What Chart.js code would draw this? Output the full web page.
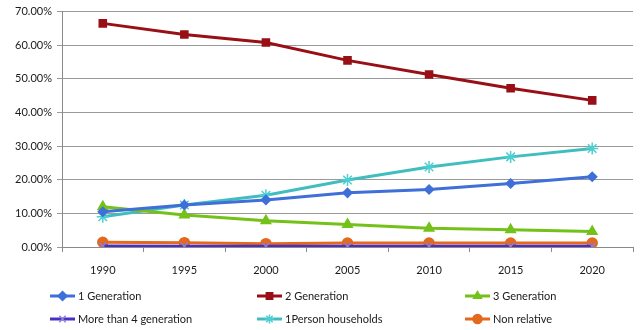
<!DOCTYPE html>
<html>
<head>
<meta charset="utf-8">
<script src="https://cdn.jsdelivr.net/npm/chart.js@4/dist/chart.umd.min.js"></script>
<style>
  html, body { margin: 0; padding: 0; background: #fff; }
  #wrap { width: 643px; height: 330px; position: relative; }
</style>
</head>
<body>
<div id="wrap"><canvas id="c" width="643" height="330"></canvas></div>
<script>
// Household composition shares, percent of households
const years = ['1990', '1995', '2000', '2005', '2010', '2015', '2020'];
const oneGeneration = [10.5, 12.5, 14.0, 16.1, 17.1, 18.9, 20.9];
const twoGeneration = [66.5, 63.2, 60.8, 55.5, 51.3, 47.2, 43.6];
const threeGeneration = [12.0, 9.5, 7.8, 6.7, 5.6, 5.1, 4.6];
const fourPlusGeneration = [0.3, 0.2, 0.2, 0.2, 0.2, 0.2, 0.2];
const onePerson = [9.0, 12.5, 15.4, 19.9, 23.8, 26.8, 29.3];
const nonRelative = [1.4, 1.3, 1.0, 1.2, 1.2, 1.2, 1.2];
const yTicks = [0, 10, 20, 30, 40, 50, 60, 70];

const FONT = 'Lato, "Liberation Sans", sans-serif';

function series(label, data, color, pointStyle, radius, pointColor) {
  return {
    label, data,
    borderColor: color,
    backgroundColor: pointColor || color,
    pointBorderColor: pointColor || color,
    pointBackgroundColor: pointColor || color,
    borderWidth: 3,
    pointStyle,
    pointRadius: radius,
    pointHoverRadius: radius,
    pointBorderWidth: 1.5,
    tension: 0
  };
}

const datasets = [
  series('1 Generation', oneGeneration, '#3F6FD8', 'rectRot', 4.5),
  series('2 Generation', twoGeneration, '#990F16', 'rect', 5),
  series('3 Generation', threeGeneration, '#74C11A', 'triangle', 5.5),
  series('More than 4 generation', fourPlusGeneration, '#4B2FC2', 'crossRot', 5, '#8C7CE0'),
  series('1Person households', onePerson, '#40BDBF', 'star', 6, '#4CCFD0'),
  series('Non relative', nonRelative, '#E2691D', 'circle', 5)
];

// Legend laid out as a fixed three-column grid below the plot
const gridLegend = {
  id: 'gridLegend',
  afterDraw(chart) {
    const ctx = chart.ctx;
    const cols = [50, 257, 465];
    const rows = [296, 319];
    ctx.save();
    chart.data.datasets.forEach((ds, i) => {
      const x = cols[i % 3];
      const y = rows[Math.floor(i / 3)];
      ctx.strokeStyle = ds.borderColor;
      ctx.lineWidth = 3;
      ctx.beginPath();
      ctx.moveTo(x, y);
      ctx.lineTo(x + 25, y);
      ctx.stroke();
      ctx.fillStyle = ds.pointBackgroundColor;
      ctx.strokeStyle = ds.pointBorderColor;
      ctx.lineWidth = 1.5;
      Chart.helpers.drawPoint(ctx, {
        pointStyle: ds.pointStyle,
        radius: Math.min(ds.pointRadius, 4.5),
        borderWidth: 1.5,
        rotation: 0
      }, x + 12.5, y);
      ctx.fillStyle = '#1a1a1a';
      ctx.font = '11px ' + FONT;
      ctx.textBaseline = 'middle';
      ctx.textAlign = 'left';
      ctx.fillText(ds.label, x + 28, y + 0.5);
    });
    ctx.restore();
  }
};

new Chart(document.getElementById('c'), {
  type: 'line',
  data: { labels: years, datasets },
  options: {
    responsive: false,
    animation: false,
    layout: { padding: { top: 6, right: 10, bottom: 53, left: 0 } },
    plugins: { legend: { display: false }, tooltip: { enabled: false } },
    scales: {
      x: {
        offset: true,
        grid: {
          offset: true,
          drawOnChartArea: false,
          drawTicks: true,
          tickLength: 5,
          color: '#8a8a8a'
        },
        border: { display: true, color: '#8a8a8a', width: 1 },
        ticks: {
          color: '#1a1a1a',
          font: { family: FONT, size: 11 },
          padding: 12,
          maxRotation: 0
        },
        afterFit(scale) { scale.height = 30; }
      },
      y: {
        min: 0, max: 70,
        afterBuildTicks(scale) { scale.ticks = yTicks.map(v => ({ value: v })); },
        grid: {
          color: '#9a9a9a',
          drawTicks: true,
          tickLength: 5
        },
        border: { display: true, color: '#8a8a8a', width: 1 },
        ticks: {
          color: '#1a1a1a',
          font: { family: FONT, size: 11 },
          padding: 5,
          callback: v => v.toFixed(2) + '%'
        },
        afterFit(scale) { scale.width = 62; }
      }
    }
  },
  plugins: [gridLegend]
});
</script>
</body>
</html>
